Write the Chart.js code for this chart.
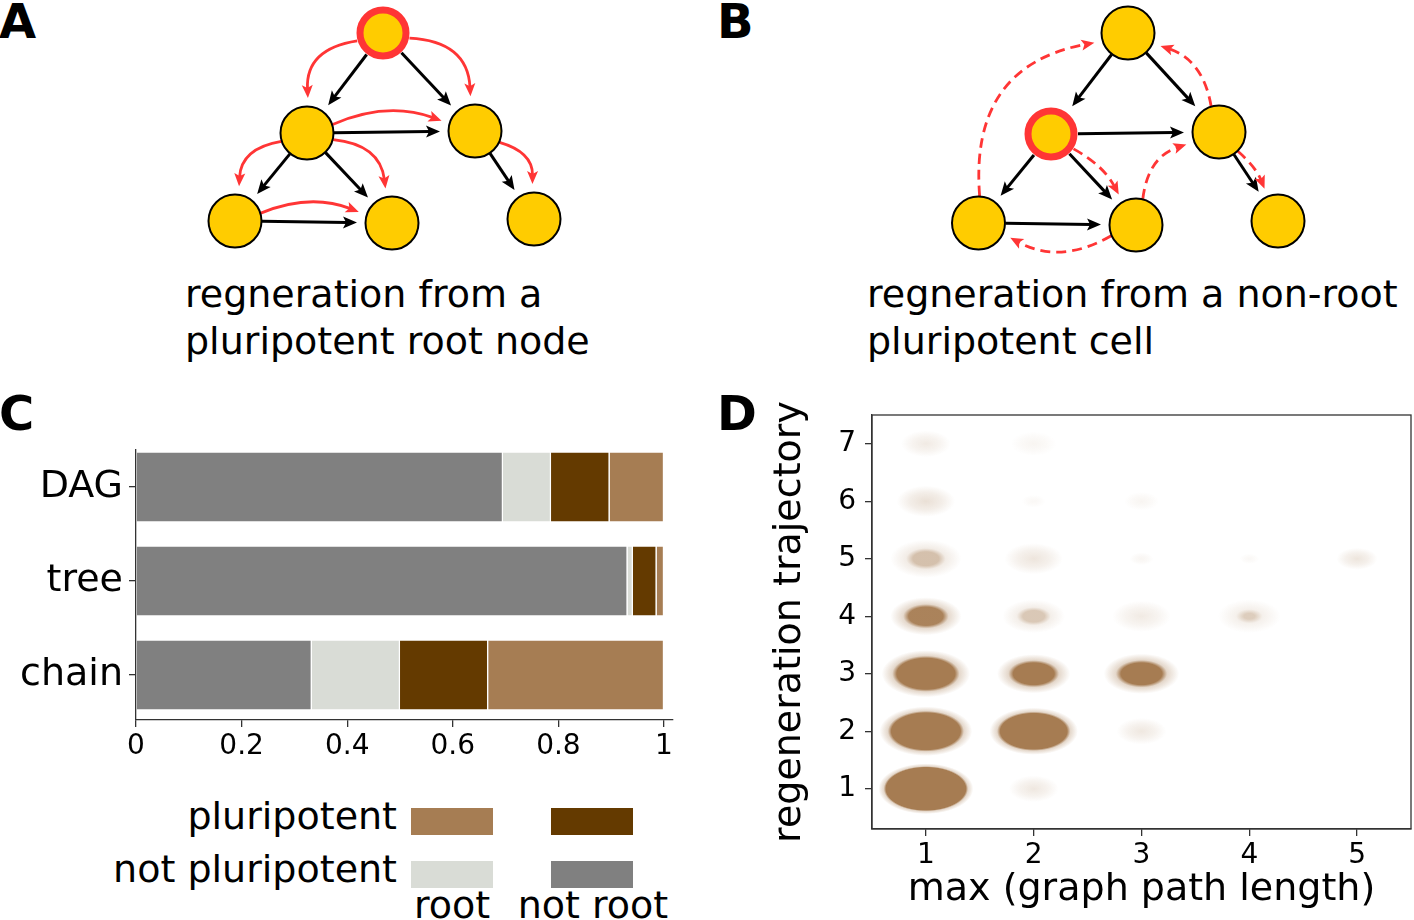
<!DOCTYPE html>
<html>
<head>
<meta charset="utf-8">
<title>Regeneration in cell differentiation graphs</title>
<script src="https://cdn.jsdelivr.net/npm/chart.js@4"></script>
<style>
    body { margin: 0; background: #fff; font-family: 'DejaVu Sans', sans-serif; color: #000; }
    #page { position: relative; width: 1414px; height: 920px; overflow: hidden; }
    canvas { position: absolute; }
    .txt { position: absolute; white-space: nowrap; }
    .letter { font-weight: bold; font-size: 48px; line-height: 48px; }
    .caption { font-size: 38px; line-height: 47px; }
    .legend-text { font-size: 38px; line-height: 38px; }
    .swatch { position: absolute; width: 82px; height: 27px; }
</style>
</head>
<body>
<div id="page">
    <canvas id="graphA" width="400" height="260" style="left:180px; top:0px;"></canvas>
    <canvas id="graphB" width="400" height="260" style="left:920px; top:0px;"></canvas>
    <canvas id="barsC" width="700" height="400" style="left:0px; top:380px;"></canvas>
    <canvas id="scatterD" width="714" height="530" style="left:700px; top:390px;"></canvas>

    <div class="txt letter" style="left:-1px; top:-2.6px;">A</div>
    <div class="txt letter" style="left:717px; top:-2.6px;">B</div>
    <div class="txt letter" style="left:-1px; top:389.4px;">C</div>
    <div class="txt letter" style="left:717px; top:389.4px;">D</div>

    <div class="txt caption" style="left:185px; top:271.4px;">regneration from a<br>pluripotent root node</div>
    <div class="txt caption" style="left:867px; top:271.4px;">regneration from a non-root<br>pluripotent cell</div>

    <div id="legendC"></div>
</div>

<script>
// Panel A / B graph layout (diagram units, y grows downwards)
const nodeXA = [2.03, 1.27, 2.95, 0.55, 2.12, 3.54];
const nodeYA = [0.33, 1.33, 1.31, 2.21, 2.23, 2.19];
const nodeXB = [2.08, 1.31, 2.99, 0.585, 2.16, 3.58];
const nodeYB = [0.33, 1.34, 1.32, 2.23, 2.25, 2.21];
const rootA = 0;
const rootB = 1;

// differentiation edges (same in both graphs)
const edgeFrom = [0, 0, 1, 1, 1, 2, 3];
const edgeTo   = [1, 2, 2, 3, 4, 5, 4];

// regeneration paths, bend > 0 bulges to the right-hand normal
const regenFromA = [0, 0, 1, 1, 1, 2, 3];
const regenToA   = [1, 2, 2, 3, 4, 5, 4];
const regenBendA = [0.45, -0.45, -0.2, 0.4, -0.4, -0.38, -0.2];
const regenFromB = [3, 2, 1, 4, 4, 2];
const regenToB   = [0, 0, 4, 2, 3, 5];
const regenBendB = [-0.45, 0.3, -0.15, -0.32, -0.28, -0.12];

// Panel C: fraction of graphs
const structures = ['DAG', 'tree', 'chain'];
const notPluriNotRoot = [0.695, 0.931, 0.333];
const notPluriRoot    = [0.091, 0.010, 0.167];
const pluriNotRoot    = [0.111, 0.045, 0.167];
const pluriRoot       = [0.103, 0.014, 0.333];
const fractionTicks = [0, 0.2, 0.4, 0.6, 0.8, 1];

// Panel D: clusters of (max path length, regeneration trajectory)
const pathTicks = [1, 2, 3, 4, 5];
const trajectoryTicks = [1, 2, 3, 4, 5, 6, 7];
const clusterPath    = [1, 1, 2, 1, 2, 3, 1, 2, 3, 4, 1, 2, 5, 1, 3, 1, 2, 2, 3, 2, 3, 4];
const clusterTraj    = [1, 2, 2, 3, 3, 3, 4, 4, 4, 4, 5, 5, 5, 6, 6, 7, 7, 1, 2, 6, 5, 5];
const clusterCore    = [0.37, 0.32, 0.31, 0.27, 0.19, 0.19, 0.16, 0.10, 0, 0.05, 0.12, 0, 0, 0, 0, 0, 0, 0, 0, 0, 0, 0];
const clusterSpread  = [0.44, 0.43, 0.41, 0.41, 0.34, 0.35, 0.33, 0.29, 0.27, 0.29, 0.33, 0.27, 0.19, 0.27, 0.16, 0.23, 0.21, 0.23, 0.23, 0.11, 0.11, 0.09];
const clusterDensity = [1, 1, 1, 1, 1, 1, 0.95, 0.42, 0.16, 0.38, 0.48, 0.2, 0.2, 0.24, 0.08, 0.16, 0.08, 0.18, 0.18, 0.06, 0.08, 0.06];

const YELLOW = '#ffcc00';
const RED = '#ff3535';
const AXIS = '#333';
const BROWN = [166, 124, 82];
const NODE_R = 27;
const TIP_GAP = 8;

Chart.defaults.font.family = "'DejaVu Sans', sans-serif";
Chart.defaults.color = '#000';

document.addEventListener('DOMContentLoaded', () => {
    drawGraph('graphA', nodeXA, nodeYA, rootA, regenFromA, regenToA, regenBendA, false);
    drawGraph('graphB', nodeXB, nodeYB, rootB, regenFromB, regenToB, regenBendB, true);
    drawBars();
    buildLegend();
    drawClusters();
});

function rotate(v, a) {
    return { x: v.x * Math.cos(a) - v.y * Math.sin(a), y: v.x * Math.sin(a) + v.y * Math.cos(a) };
}

function arrowHead(ctx, tip, dir, len, half, color) {
    const back = { x: tip.x - dir.x * len, y: tip.y - dir.y * len };
    const notch = { x: tip.x - dir.x * len * 0.78, y: tip.y - dir.y * len * 0.78 };
    ctx.setLineDash([]);
    ctx.fillStyle = color;
    ctx.beginPath();
    ctx.moveTo(tip.x, tip.y);
    ctx.lineTo(back.x - dir.y * half, back.y + dir.x * half);
    ctx.lineTo(notch.x, notch.y);
    ctx.lineTo(back.x + dir.y * half, back.y - dir.x * half);
    ctx.closePath();
    ctx.fill();
}

function drawGraph(canvasId, nodeX, nodeY, root, regenFrom, regenTo, regenBend, dashed) {
    const edgesPlugin = {
        id: 'edges',
        beforeDatasetsDraw(chart) {
            const pts = chart.getDatasetMeta(0).data;
            const ctx = chart.ctx;
            ctx.save();
            ctx.lineCap = 'butt';

            // black differentiation arrows
            edgeFrom.forEach((f, i) => {
                const s = pts[f], t = pts[edgeTo[i]];
                const d = Math.hypot(t.x - s.x, t.y - s.y);
                const u = { x: (t.x - s.x) / d, y: (t.y - s.y) / d };
                const start = { x: s.x + u.x * NODE_R, y: s.y + u.y * NODE_R };
                const tip = { x: t.x - u.x * (NODE_R + TIP_GAP), y: t.y - u.y * (NODE_R + TIP_GAP) };
                ctx.strokeStyle = '#000';
                ctx.lineWidth = 3;
                ctx.setLineDash([]);
                ctx.beginPath();
                ctx.moveTo(start.x, start.y);
                ctx.lineTo(tip.x - u.x * 10, tip.y - u.y * 10);
                ctx.stroke();
                arrowHead(ctx, tip, u, 14, 6, '#000');
            });

            // red regeneration arcs
            regenFrom.forEach((f, i) => {
                const s = pts[f], t = pts[regenTo[i]];
                const d = Math.hypot(t.x - s.x, t.y - s.y);
                const u = { x: (t.x - s.x) / d, y: (t.y - s.y) / d };
                const sgn = Math.sign(regenBend[i]);
                const k = Math.abs(regenBend[i]);
                const phi = Math.atan(1.6 * k);
                const a = rotate(u, sgn * phi);
                const b = rotate({ x: -u.x, y: -u.y }, -sgn * phi);
                const start = { x: s.x + a.x * NODE_R, y: s.y + a.y * NODE_R };
                const tip = { x: t.x + b.x * (NODE_R + TIP_GAP), y: t.y + b.y * (NODE_R + TIP_GAP) };
                const n = rotate(u, sgn * Math.PI / 2);
                const L = Math.hypot(tip.x - start.x, tip.y - start.y);
                const ctrl = {
                    x: (start.x + tip.x) / 2 + n.x * k * L,
                    y: (start.y + tip.y) / 2 + n.y * k * L
                };
                const dl = Math.hypot(tip.x - ctrl.x, tip.y - ctrl.y);
                const dir = { x: (tip.x - ctrl.x) / dl, y: (tip.y - ctrl.y) / dl };
                ctx.strokeStyle = RED;
                ctx.lineWidth = 2.8;
                ctx.setLineDash(dashed ? [10, 6] : []);
                ctx.beginPath();
                ctx.moveTo(start.x, start.y);
                ctx.quadraticCurveTo(ctrl.x, ctrl.y, tip.x - dir.x * 9, tip.y - dir.y * 9);
                ctx.stroke();
                arrowHead(ctx, tip, dir, 13, 5.5, RED);
            });
            ctx.restore();
        }
    };

    new Chart(document.getElementById(canvasId), {
        type: 'scatter',
        data: {
            datasets: [{
                data: nodeX.map((x, i) => ({ x, y: nodeY[i] })),
                pointRadius: c => c.dataIndex === root ? 23 : 26.5,
                pointBorderWidth: c => c.dataIndex === root ? 7 : 2,
                pointBackgroundColor: YELLOW,
                pointBorderColor: c => c.dataIndex === root ? RED : '#000',
                clip: false
            }]
        },
        options: {
            responsive: false,
            animation: false,
            events: [],
            layout: { autoPadding: false, padding: 0 },
            plugins: { legend: { display: false }, tooltip: { enabled: false } },
            scales: {
                x: { display: false, min: 0, max: 4 },
                y: { display: false, min: 0, max: 2.6, reverse: true }
            }
        },
        plugins: [edgesPlugin]
    });
}

const segments = [
    { label: 'not pluripotent, not root', values: notPluriNotRoot, color: '#808080' },
    { label: 'not pluripotent, root', values: notPluriRoot, color: '#d9dcd6' },
    { label: 'pluripotent, not root', values: pluriNotRoot, color: '#643a00' },
    { label: 'pluripotent, root', values: pluriRoot, color: '#a67d53' }
];

function drawBars() {
    new Chart(document.getElementById('barsC'), {
        type: 'bar',
        data: {
            datasets: segments.map(seg => ({
                label: seg.label,
                data: seg.values.map((v, i) => ({ x: v, y: i })),
                backgroundColor: seg.color,
                borderColor: '#fff',
                borderWidth: { right: 1.2 },
                borderSkipped: false
            }))
        },
        options: {
            indexAxis: 'y',
            responsive: false,
            animation: false,
            events: [],
            barPercentage: 0.734,
            categoryPercentage: 1,
            layout: { autoPadding: false, padding: { top: 70, right: 27, left: 0, bottom: 0 } },
            plugins: { legend: { display: false }, tooltip: { enabled: false } },
            scales: {
                x: {
                    type: 'linear',
                    stacked: true,
                    min: 0,
                    max: 1.017,
                    afterBuildTicks: s => { s.ticks = fractionTicks.map(v => ({ value: v })); },
                    ticks: { font: { size: 28 }, color: '#000', padding: 3, callback: v => String(v) },
                    grid: { drawOnChartArea: false, tickLength: 7, color: AXIS, lineWidth: 1.3 },
                    border: { display: true, color: AXIS, width: 1.3 },
                    afterFit: s => { s.height = 60; s.paddingLeft = 0; s.paddingRight = 0; }
                },
                y: {
                    type: 'linear',
                    stacked: true,
                    reverse: true,
                    offset: false,
                    min: -0.394,
                    max: 2.479,
                    afterBuildTicks: s => { s.ticks = structures.map((_, i) => ({ value: i })); },
                    ticks: { font: { size: 38 }, color: '#000', padding: 6, callback: v => structures[v] },
                    grid: { offset: false, drawOnChartArea: false, tickLength: 7, color: AXIS, lineWidth: 1.3 },
                    border: { display: true, color: AXIS, width: 1.3 },
                    afterFit: s => { s.width = 136; s.paddingTop = 0; s.paddingBottom = 0; }
                }
            }
        }
    });
}

function buildLegend() {
    // rows: pluripotent / not pluripotent, columns: root / not root
    const rows = [
        { text: 'pluripotent', baseline: 829, colors: [segments[3].color, segments[2].color] },
        { text: 'not pluripotent', baseline: 882, colors: [segments[1].color, segments[0].color] }
    ];
    const columns = [{ text: 'root', center: 452, left: 411 }, { text: 'not root', center: 593, left: 551 }];
    const container = document.getElementById('legendC');
    let html = '';
    rows.forEach(row => {
        html += `<div class="txt legend-text" style="left:0px; width:397px; text-align:right; top:${row.baseline - 32.1}px;">${row.text}</div>`;
        row.colors.forEach((c, j) => {
            html += `<div class="swatch" style="left:${columns[j].left}px; top:${row.baseline - 21}px; background:${c};"></div>`;
        });
    });
    columns.forEach(col => {
        html += `<div class="txt legend-text" style="left:${col.center - 100}px; width:200px; text-align:center; top:${918 - 32.1}px;">${col.text}</div>`;
    });
    container.innerHTML = html;
}

function drawClusters() {
    const rgba = a => `rgba(${BROWN[0]}, ${BROWN[1]}, ${BROWN[2]}, ${a})`;

    const cloudPlugin = {
        id: 'clouds',
        afterDatasetsDraw(chart) {
            const { ctx, chartArea, scales: { x, y } } = chart;
            const pxX = Math.abs(x.getPixelForValue(1) - x.getPixelForValue(0));
            const pxY = Math.abs(y.getPixelForValue(1) - y.getPixelForValue(0));
            ctx.save();
            ctx.beginPath();
            ctx.rect(chartArea.left, chartArea.top, chartArea.right - chartArea.left, chartArea.bottom - chartArea.top);
            ctx.clip();
            chart.getDatasetMeta(0).data.forEach((pt, i) => {
                const rx = clusterSpread[i] * pxX;
                const ry = clusterSpread[i] * pxY;
                const a = clusterDensity[i];
                const c = clusterCore[i] / clusterSpread[i];
                ctx.save();
                ctx.translate(pt.x, pt.y);
                ctx.scale(1, ry / rx);
                const g = ctx.createRadialGradient(0, 0, 0, 0, 0, rx);
                if (c > 0) {
                    g.addColorStop(0, rgba(a));
                    g.addColorStop(c, rgba(a));
                    g.addColorStop(c + (1 - c) * 0.3, rgba(a * 0.3));
                    g.addColorStop(1, rgba(0));
                } else {
                    g.addColorStop(0, rgba(a));
                    g.addColorStop(0.55, rgba(a * 0.55));
                    g.addColorStop(1, rgba(0));
                }
                ctx.fillStyle = g;
                ctx.beginPath();
                ctx.arc(0, 0, rx, 0, Math.PI * 2);
                ctx.fill();
                ctx.restore();
            });
            ctx.restore();
        }
    };

    const framePlugin = {
        id: 'frame',
        afterDraw(chart) {
            const { ctx, chartArea } = chart;
            ctx.save();
            ctx.strokeStyle = AXIS;
            ctx.lineWidth = 1.3;
            ctx.strokeRect(chartArea.left, chartArea.top, chartArea.right - chartArea.left, chartArea.bottom - chartArea.top);
            ctx.restore();
        }
    };

    new Chart(document.getElementById('scatterD'), {
        type: 'scatter',
        data: {
            datasets: [{
                data: clusterPath.map((x, i) => ({ x, y: clusterTraj[i] })),
                pointRadius: 0
            }]
        },
        options: {
            responsive: false,
            animation: false,
            events: [],
            layout: { autoPadding: false, padding: { top: 25, right: 3, left: 0, bottom: 0 } },
            plugins: { legend: { display: false }, tooltip: { enabled: false } },
            scales: {
                x: {
                    min: 0.5,
                    max: 5.5,
                    afterBuildTicks: s => { s.ticks = pathTicks.map(v => ({ value: v })); },
                    ticks: { font: { size: 28 }, color: '#000', padding: 3 },
                    grid: { drawOnChartArea: false, tickLength: 7, color: AXIS, lineWidth: 1.3 },
                    border: { display: true, color: AXIS, width: 1.3 },
                    title: { display: true, text: 'max (graph path length)', font: { size: 38 }, color: '#000', padding: { top: 0, bottom: 7 } },
                    afterFit: s => { s.height = 91; s.paddingLeft = 0; s.paddingRight = 0; }
                },
                y: {
                    min: 0.3,
                    max: 7.5,
                    afterBuildTicks: s => { s.ticks = trajectoryTicks.map(v => ({ value: v })); },
                    ticks: { font: { size: 28 }, color: '#000', padding: 9 },
                    grid: { drawOnChartArea: false, tickLength: 7, color: AXIS, lineWidth: 1.3 },
                    border: { display: true, color: AXIS, width: 1.3 },
                    title: { display: true, text: 'regeneration trajectory', font: { size: 38 }, color: '#000', padding: { top: 67, bottom: 0 } },
                    afterFit: s => { s.width = 172; s.paddingTop = 0; s.paddingBottom = 0; }
                }
            }
        },
        plugins: [cloudPlugin, framePlugin]
    });
}
</script>
</body>
</html>
